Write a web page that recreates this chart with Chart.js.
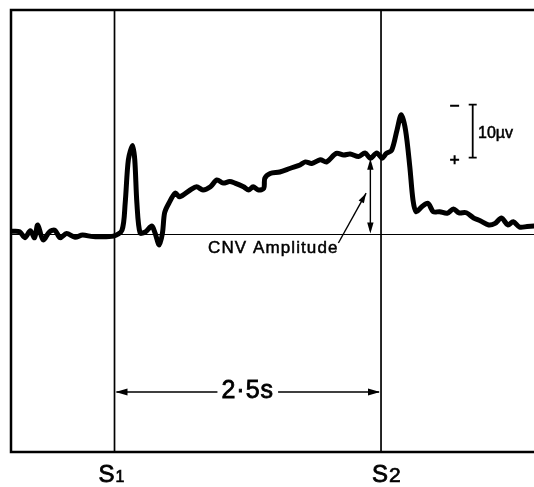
<!DOCTYPE html>
<html>
<head>
<meta charset="utf-8">
<script src="https://cdn.jsdelivr.net/npm/chart.js@4/dist/chart.umd.min.js"></script>
<style>
    html, body { margin: 0; padding: 0; background: #fff; }
    canvas { display: block; }
</style>
</head>
<body>
<canvas id="cnv" width="534" height="487"></canvas>
<script>
// time after S1 (s) and EEG amplitude (µV, negative = up)
const timeS = [
    -0.96, -0.89, -0.84, -0.79, -0.75, -0.72, -0.67, -0.61, -0.56, -0.51,
    -0.45, -0.37, -0.30, -0.20, -0.01, 0.07, 0.10, 0.13, 0.17, 0.19,
    0.21, 0.24, 0.29, 0.35, 0.38, 0.42, 0.45, 0.47, 0.51, 0.57,
    0.61, 0.71, 0.77, 0.83, 0.90, 0.96, 1.02, 1.08, 1.13, 1.21,
    1.26, 1.30, 1.35, 1.40, 1.41, 1.46, 1.55, 1.65, 1.74, 1.79,
    1.85, 1.93, 1.99, 2.08, 2.15, 2.21, 2.29, 2.35, 2.40, 2.46,
    2.51, 2.55, 2.60, 2.65, 2.69, 2.73, 2.77, 2.80, 2.83, 2.88,
    2.94, 2.99, 3.05, 3.12, 3.18, 3.23, 3.30, 3.37, 3.43, 3.51,
    3.57, 3.63, 3.69, 3.74, 3.80, 3.87, 3.94
];
const amplitudeUV = [
    -0.6, -0.5, 0.6, -0.7, 0.6, -1.8, 1.0, -0.5, -0.8, 0.6,
    -0.2, 0.5, 0.1, 0.4, 0.3, -0.8, -5.9, -14.1, -16.8, -14.1,
    -5.9, -0.3, -0.5, -1.6, -0.3, 2.0, -0.3, -4.1, -5.9, -7.8,
    -7.1, -8.4, -9.0, -8.4, -9.0, -10.3, -9.7, -10.0, -9.7, -9.0,
    -8.4, -9.0, -8.4, -8.7, -10.6, -11.5, -11.8, -12.5, -13.1, -13.7,
    -13.4, -14.1, -13.7, -15.3, -15.0, -15.2, -14.7, -15.4, -14.4, -15.4,
    -14.4, -15.3, -15.9, -19.7, -22.6, -19.7, -12.8, -6.5, -4.3, -5.2,
    -5.9, -4.3, -4.3, -4.0, -4.8, -4.1, -4.1, -3.1, -2.6, -1.8,
    -2.1, -3.1, -1.8, -2.4, -1.4, -1.5, -1.6
];
const stimulusNames = ['S', 'S'];
const stimulusSubs = ['1', '2'];
const stimulusTimes = [0, 2.5];
const intervalLabel = '2·5s';
const cnvLabel = 'CNV Amplitude';
const cnvTime = 2.4;
const cnvAmplitude = -14.3;
const calibLabel = '10µv';
const calibFrom = -24.5;
const calibTo = -14.5;

const FONT = '"Liberation Sans", Arial, sans-serif';

function arrowHead(ctx, x, y, angle, len, half) {
    ctx.save();
    ctx.translate(x, y);
    ctx.rotate(angle);
    ctx.beginPath();
    ctx.moveTo(0, 0);
    ctx.lineTo(-len, -half);
    ctx.lineTo(-len, half);
    ctx.closePath();
    ctx.fill();
    ctx.restore();
}

// print-style text: fill plus a thin stroke to thicken the glyphs
function inkText(ctx, text, x, y, weight) {
    ctx.fillText(text, x, y);
    ctx.lineWidth = weight;
    ctx.strokeText(text, x, y);
}

const figurePlugin = {
    id: 'figure',
    beforeDraw(chart) {
        const ctx = chart.ctx;
        ctx.save();
        ctx.fillStyle = '#fff';
        ctx.fillRect(0, 0, chart.width, chart.height);
        ctx.restore();
    },
    beforeDatasetsDraw(chart) {
        const { ctx, chartArea: a, scales: { x, y } } = chart;
        ctx.save();
        ctx.strokeStyle = '#000';
        // frame: top, left, bottom
        ctx.lineWidth = 2.5;
        ctx.beginPath();
        ctx.moveTo(chart.width, a.top);
        ctx.lineTo(a.left, a.top);
        ctx.lineTo(a.left, a.bottom);
        ctx.lineTo(chart.width, a.bottom);
        ctx.stroke();
        // baseline
        ctx.lineWidth = 1.2;
        ctx.beginPath();
        ctx.moveTo(a.left, y.getPixelForValue(0));
        ctx.lineTo(a.right, y.getPixelForValue(0));
        ctx.stroke();
        // stimulus lines
        ctx.lineWidth = 1.7;
        stimulusTimes.forEach((t) => {
            const px = x.getPixelForValue(t);
            ctx.beginPath();
            ctx.moveTo(px, a.top);
            ctx.lineTo(px, a.bottom);
            ctx.stroke();
        });
        ctx.restore();
    },
    afterDatasetsDraw(chart) {
        const { ctx, scales: { x, y } } = chart;
        ctx.save();
        ctx.strokeStyle = '#000';
        ctx.fillStyle = '#000';
        ctx.textBaseline = 'middle';

        // interval arrow S1 -> S2
        const x1 = x.getPixelForValue(stimulusTimes[0]);
        const x2 = x.getPixelForValue(stimulusTimes[1]);
        const ay = y.getPixelForValue(29.7);
        const mid = (x1 + x2) / 2;
        ctx.font = '25px ' + FONT;
        ctx.letterSpacing = '1px';
        const tw = ctx.measureText(intervalLabel).width;
        ctx.lineWidth = 1.5;
        ctx.beginPath();
        ctx.moveTo(x1 + 2, ay);
        ctx.lineTo(mid - tw / 2 - 4, ay);
        ctx.moveTo(mid + tw / 2 + 4, ay);
        ctx.lineTo(x2 - 2, ay);
        ctx.stroke();
        arrowHead(ctx, x1 + 1, ay, Math.PI, 12, 3.5);
        arrowHead(ctx, x2 - 1, ay, 0, 12, 3.5);
        ctx.textAlign = 'center';
        inkText(ctx, intervalLabel, mid, ay - 1, 0.8);

        // stimulus labels
        ctx.letterSpacing = '0px';
        stimulusTimes.forEach((t, i) => {
            const px = x.getPixelForValue(t);
            const left = i === 0 ? px - 16 : px - 9;
            ctx.textAlign = 'left';
            ctx.textBaseline = 'alphabetic';
            ctx.font = '24px ' + FONT;
            inkText(ctx, stimulusNames[i], left, 482, 0.8);
            const sw = ctx.measureText(stimulusNames[i]).width;
            ctx.font = (i === 0 ? '16px ' : '21px ') + FONT;
            inkText(ctx, stimulusSubs[i], left + sw + 1, 482, 0.7);
        });

        // CNV amplitude double arrow
        const cx = x.getPixelForValue(cnvTime);
        const cTop = y.getPixelForValue(cnvAmplitude);
        const cBot = y.getPixelForValue(0);
        ctx.lineWidth = 1.4;
        ctx.beginPath();
        ctx.moveTo(cx, cTop + 4);
        ctx.lineTo(cx, cBot - 4);
        ctx.stroke();
        arrowHead(ctx, cx, cTop, -Math.PI / 2, 11, 3.2);
        arrowHead(ctx, cx, cBot - 1, Math.PI / 2, 11, 3.2);

        // pointer from label
        const px0 = x.getPixelForValue(2.10), py0 = y.getPixelForValue(1.6);
        const px1 = x.getPixelForValue(2.36), py1 = y.getPixelForValue(-7.8);
        ctx.lineWidth = 1.4;
        ctx.beginPath();
        ctx.moveTo(px0, py0);
        ctx.lineTo(px1, py1);
        ctx.stroke();
        arrowHead(ctx, px1, py1, Math.atan2(py1 - py0, px1 - px0), 10, 3);

        ctx.textBaseline = 'middle';
        ctx.textAlign = 'left';
        ctx.font = '17px ' + FONT;
        ctx.letterSpacing = '1.1px';
        inkText(ctx, cnvLabel, x.getPixelForValue(0.877), y.getPixelForValue(2.7), 0.5);
        ctx.letterSpacing = '0px';

        // calibration bar
        const bx = x.getPixelForValue(3.36);
        const bTop = y.getPixelForValue(calibFrom);
        const bBot = y.getPixelForValue(calibTo);
        ctx.lineWidth = 1.8;
        ctx.beginPath();
        ctx.moveTo(bx, bTop);
        ctx.lineTo(bx, bBot);
        ctx.moveTo(bx - 4, bTop);
        ctx.lineTo(bx + 4, bTop);
        ctx.moveTo(bx - 4, bBot);
        ctx.lineTo(bx + 4, bBot);
        ctx.stroke();
        ctx.lineWidth = 2;
        const sx = x.getPixelForValue(3.195);
        ctx.beginPath();
        ctx.moveTo(sx - 5, bTop + 1);
        ctx.lineTo(sx + 4, bTop + 1);
        ctx.moveTo(sx - 5, bBot + 2);
        ctx.lineTo(sx + 4, bBot + 2);
        ctx.moveTo(sx - 0.5, bBot - 2.5);
        ctx.lineTo(sx - 0.5, bBot + 6.5);
        ctx.stroke();
        ctx.font = '16px ' + FONT;
        inkText(ctx, calibLabel, x.getPixelForValue(3.41), (bTop + bBot) / 2 + 2, 0.5);
        ctx.restore();
    }
};

const points = timeS.map((t, i) => ({ x: t, y: amplitudeUV[i] }));

new Chart(document.getElementById('cnv').getContext('2d'), {
    type: 'line',
    data: {
        datasets: [{
            label: 'EEG',
            data: points,
            borderColor: '#000',
            borderWidth: 5,
            borderJoinStyle: 'round',
            borderCapStyle: 'round',
            pointRadius: 0,
            tension: 0.3,
            fill: false
        }]
    },
    options: {
        responsive: false,
        animation: false,
        layout: { padding: { left: 11, top: 10, right: 0, bottom: 35 } },
        scales: {
            x: { type: 'linear', min: -0.971, max: 3.935, display: false },
            y: { type: 'linear', min: -42.36, max: 41.04, reverse: true, display: false }
        },
        plugins: {
            legend: { display: false },
            tooltip: { enabled: false }
        }
    },
    plugins: [figurePlugin]
});
</script>
</body>
</html>
